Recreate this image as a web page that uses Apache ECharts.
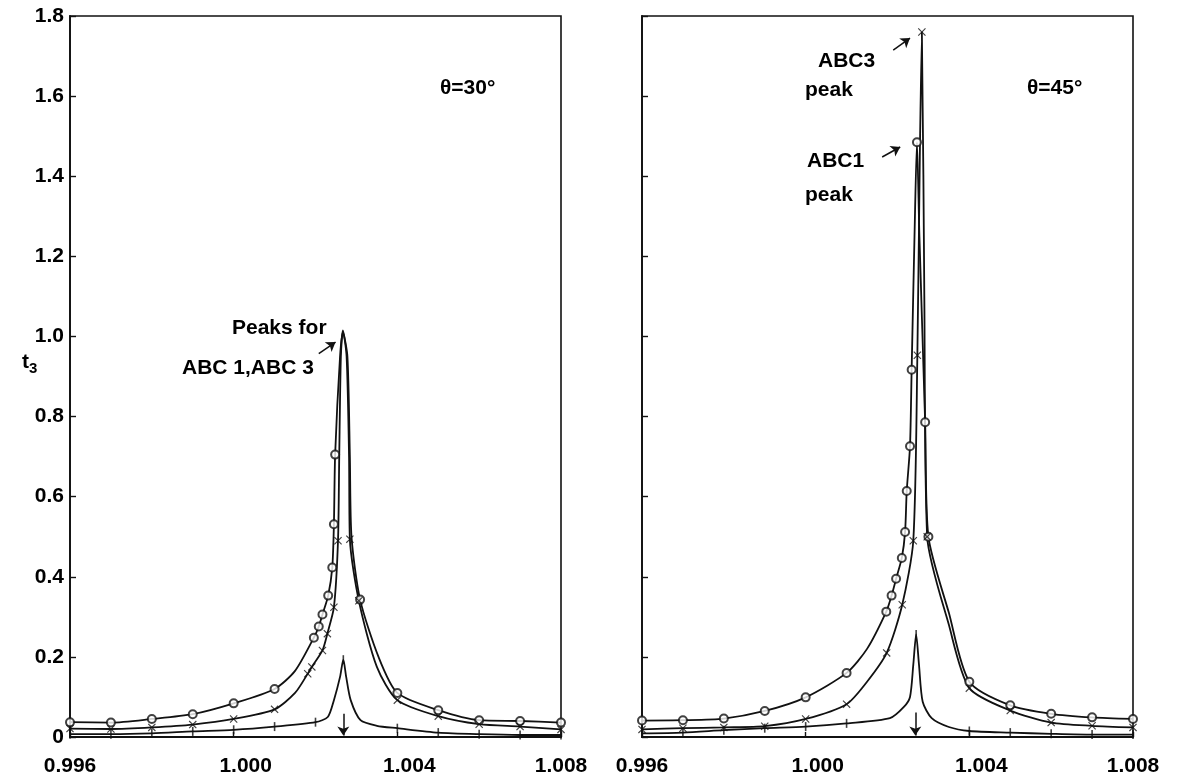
<!DOCTYPE html>
<html><head><meta charset="utf-8">
<script src="https://cdn.jsdelivr.net/npm/echarts@6/dist/echarts.min.js"></script>
<style>html,body{margin:0;padding:0;background:#fff}#c{width:1179px;height:784px}</style>
</head><body><div id="c"></div>
<script>
// ---------- axis ranges / ticks ----------
const xMin = 0.996, xMax = 1.008, xStep = 0.004;
const yMin = 0, yMax = 1.8, yStep = 0.2;
const xShifted = ['1.000', '1.004'];   // tick labels printed slightly right of their tick

// ---------- LEFT PANEL (theta = 30 deg) ----------
// circle-marked curve (ABC1)
const c30MarkX = [0.996,0.997,0.998,0.999,1.000,1.001,1.00196,1.00208,1.00217,1.00231,1.00241,1.00245,1.00248,1.00309,1.004,1.005,1.006,1.007,1.008];
const c30MarkY = [0.037,0.036,0.045,0.057,0.084,0.120,0.248,0.276,0.306,0.353,0.423,0.531,0.705,0.343,0.110,0.067,0.042,0.040,0.036];
const c30TraceX = [1.0015,1.0026,1.00267,1.00278,1.00284,1.00288,1.00354];
const c30TraceY = [0.165,0.950,1.010,0.950,0.700,0.500,0.200];
// cross-marked curve (ABC3)
const x30MarkX = [0.996,0.997,0.998,0.999,1.000,1.001,1.00181,1.00191,1.00217,1.00229,1.00245,1.00255,1.00284,1.00306,1.004,1.005,1.006,1.007,1.008];
const x30MarkY = [0.021,0.020,0.024,0.031,0.045,0.069,0.158,0.175,0.216,0.258,0.324,0.490,0.494,0.340,0.092,0.052,0.032,0.026,0.019];
const x30TraceX = [1.0015,1.00258,1.00262,1.00267,1.00276,1.00282,1.0035];
const x30TraceY = [0.110,0.700,0.950,1.015,0.950,0.700,0.175];
// plus-marked (lowest) curve
const p30MarkX = [0.996,0.997,0.998,0.999,1.000,1.001,1.002,1.00268,1.004,1.005,1.006,1.007,1.008];
const p30MarkY = [0.007,0.007,0.009,0.014,0.018,0.026,0.037,0.193,0.022,0.011,0.007,0.005,0.005];
const p30TraceX = [1.0023,1.00245,1.0026,1.00275,1.00286,1.0031,1.0035];
const p30TraceY = [0.050,0.092,0.150,0.150,0.092,0.042,0.028];

// ---------- RIGHT PANEL (theta = 45 deg) ----------
const c45MarkX = [0.996,0.997,0.998,0.999,1.000,1.001,1.00197,1.0021,1.00221,1.00235,1.00243,1.00247,1.00255,1.00259,1.00272,1.00292,1.003,1.004,1.005,1.006,1.007,1.008];
const c45MarkY = [0.041,0.042,0.046,0.065,0.099,0.160,0.313,0.353,0.395,0.447,0.512,0.614,0.726,0.917,1.485,0.786,0.500,0.138,0.079,0.058,0.049,0.045];
const c45TraceX = [1.0015,1.00266,1.00278,1.0035];
const c45TraceY = [0.220,1.250,1.250,0.310];
const x45MarkX = [0.996,0.997,0.998,0.999,1.000,1.001,1.00198,1.00236,1.00263,1.00273,1.00284,1.00297,1.004,1.005,1.006,1.007,1.008];
const x45MarkY = [0.019,0.022,0.024,0.027,0.045,0.082,0.210,0.330,0.490,0.953,1.760,0.500,0.122,0.066,0.036,0.028,0.024];
const x45TraceX = [1.0015,1.00279,1.0029,1.0035];
const x45TraceY = [0.138,1.450,1.100,0.280];
const p45MarkX = [0.996,0.997,0.998,0.999,1.000,1.001,1.0027,1.004,1.005,1.006,1.007,1.008];
const p45MarkY = [0.009,0.011,0.017,0.022,0.026,0.034,0.256,0.015,0.011,0.008,0.006,0.006];
const p45TraceX = [1.00206,1.0024,1.00255,1.00263,1.00277,1.00286,1.00308,1.0035];
const p45TraceY = [0.047,0.075,0.100,0.180,0.180,0.088,0.047,0.025];

// resonance arrows (x, top y)
const resArrow30 = [1.00268, 0.058];
const resArrow45 = [1.00268, 0.061];
// annotation arrows [x1,y1,x2,y2]
const ann30 = [[1.00208,0.957,1.00249,0.986]];
const ann45 = [[1.00214,1.715,1.00255,1.745],[1.00187,1.448,1.00231,1.473]];

const zip = (xs, ys) => xs.map((x,i)=>[x, ys[i]]);
const merged = (mx,my,tx,ty) => zip(mx,my).concat(zip(tx,ty)).sort((a,b)=>a[0]-b[0]);

const crossPath = 'path://M0,1L1,0L5,4L9,0L10,1L6,5L10,9L9,10L5,6L1,10L0,9L4,5Z';
const K = '#111';
const FONT = 'Liberation Sans';

function lineS(idx, data, extra) {
  return Object.assign({type:'line', xAxisIndex:idx, yAxisIndex:idx, data,
    showSymbol:false, smooth:0.25,
    lineStyle:{color:K, width:1.8}, itemStyle:{color:K}, silent:true, z:2}, extra||{});
}
function markS(idx, data, symbol, size) {
  return {type:'scatter', xAxisIndex:idx, yAxisIndex:idx, data, symbol, symbolSize:size,
    itemStyle: symbol==='emptyCircle' ? {color:K, borderColor:K, borderWidth:1.5} : {color:K},
    silent:true, z:3};
}
function arrowML(pairs) {
  return {silent:true, animation:false, symbol:['none','arrow'], symbolSize:9,
    itemStyle:{color:K},
    lineStyle:{color:K, type:'solid', width:1.5}, label:{show:false},
    data: pairs.map(p=>[{coord:[p[0],p[1]]},{coord:[p[2],p[3]]}])};
}

function xAx(idx){
  return {type:'value', gridIndex:idx, min:xMin, max:xMax, interval:xStep,
    axisLine:{show:true, onZero:false, lineStyle:{color:K, width:1.8}},
    axisTick:{show:true, inside:true, length:5, lineStyle:{color:K,width:1.4}},
    splitLine:{show:false},
    axisLabel:{color:'#000', fontFamily:FONT, fontWeight:'bold', fontSize:21, margin:19,
      formatter:v=>{ const s=v.toFixed(3); return xShifted.includes(s) ? '{sh|'+s+'}' : s; },
      rich:{sh:{fontFamily:FONT, fontWeight:'bold', fontSize:21, color:'#000', padding:[0,0,0,24]}}}};
}
function yAx(idx, labels){
  return {type:'value', gridIndex:idx, min:yMin, max:yMax, interval:yStep,
    axisLine:{show:true, lineStyle:{color:K, width:1.8}},
    axisTick:{show:true, inside:true, length:6, lineStyle:{color:K,width:1.4}},
    splitLine:{show:false},
    axisLabel:{show:labels, color:'#000', fontFamily:FONT, fontWeight:'bold', fontSize:21, margin:6,
      formatter:v=> v===0 ? '0' : v.toFixed(1)}};
}

const txt = (x,y,s,size) => ({type:'text', left:x, top:y, silent:true,
  style:{text:s, fill:'#000', font:'bold '+(size||21)+'px "'+FONT+'"'}});

const option = {
  animation:false,
  backgroundColor:'#fff',
  grid:[
    {left:70, top:16, width:491, height:721, show:true, borderColor:K, borderWidth:1.6, backgroundColor:'transparent'},
    {left:642, top:16, width:491, height:721, show:true, borderColor:K, borderWidth:1.6, backgroundColor:'transparent'}
  ],
  xAxis:[xAx(0), xAx(1)],
  yAxis:[yAx(0,true), yAx(1,false)],
  series:[
    lineS(0, merged(c30MarkX,c30MarkY,c30TraceX,c30TraceY)),
    lineS(0, merged(x30MarkX,x30MarkY,x30TraceX,x30TraceY), {markLine: arrowML(ann30)}),
    lineS(0, merged(p30MarkX,p30MarkY,p30TraceX,p30TraceY), {markLine: arrowML([[resArrow30[0],resArrow30[1],resArrow30[0],0.004]])}),
    markS(0, zip(c30MarkX,c30MarkY), 'emptyCircle', 8),
    markS(0, zip(x30MarkX,x30MarkY), crossPath, 8),
    markS(0, zip(p30MarkX,p30MarkY), 'rect', [1.6,9]),

    lineS(1, merged(c45MarkX,c45MarkY,c45TraceX,c45TraceY)),
    lineS(1, merged(x45MarkX,x45MarkY,x45TraceX,x45TraceY), {markLine: arrowML(ann45)}),
    lineS(1, merged(p45MarkX,p45MarkY,p45TraceX,p45TraceY), {markLine: arrowML([[resArrow45[0],resArrow45[1],resArrow45[0],0.004]])}),
    markS(1, zip(c45MarkX,c45MarkY), 'emptyCircle', 8),
    markS(1, zip(x45MarkX,x45MarkY), crossPath, 8),
    markS(1, zip(p45MarkX,p45MarkY), 'rect', [1.6,9])
  ],
  graphic:[
    txt(440,78,'θ=30°'),
    txt(1027,78,'θ=45°'),
    txt(232,318,'Peaks for'),
    txt(182,358,'ABC 1,ABC 3'),
    txt(818,51,'ABC3'),
    txt(805,80,'peak'),
    txt(807,151,'ABC1'),
    txt(805,185,'peak'),
    {type:'text', left:22, top:352, silent:true,
      style:{text:'{t|t}{s|3}', rich:{t:{font:'bold 21px "'+FONT+'"', fill:'#000'},
        s:{font:'bold 15px "'+FONT+'"', fill:'#000', padding:[12,0,0,0]}}}}
  ]
};
const chart = echarts.init(document.getElementById('c'), null, {renderer:'canvas'});
chart.setOption(option);
</script>
</body></html>
